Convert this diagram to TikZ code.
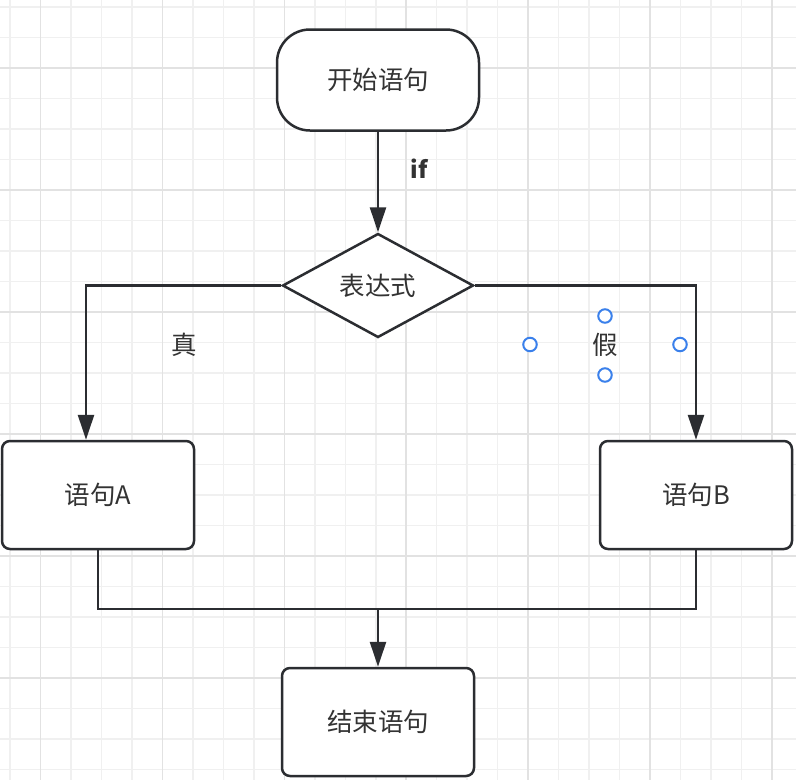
\documentclass[tikz,border=0pt]{standalone}
\usepackage{fontspec}
\setmainfont{Noto Sans CJK SC}
\usetikzlibrary{shapes.geometric,arrows.meta}
\definecolor{gridminor}{HTML}{F0F0F0}
\definecolor{gridmajor}{HTML}{E2E2E2}
\definecolor{ink}{HTML}{2B2D31}
\definecolor{txt}{HTML}{333333}
\definecolor{selblue}{HTML}{3A80EB}
\tikzset{
  base/.style={draw=ink, line width=2.5pt, fill=white, text=txt, font=\fontsize{25.5}{25.5}\selectfont, inner sep=0pt},
  stadium/.style={base, rectangle, rounded corners=33pt, minimum width=202pt, minimum height=101pt},
  stmt/.style={base, rectangle, rounded corners=8pt, minimum width=192pt, minimum height=108pt},
  decision/.style={base, diamond, shape aspect=1.84, minimum width=191pt, minimum height=104pt},
  conn/.style={draw=ink, line width=2.5pt},
  arr/.style={conn, -{Triangle[length=25pt, width=16pt]}},
  lbl/.style={text=txt, font=\fontsize{25.5}{25.5}\selectfont, inner sep=0pt},
  handle/.style={circle, draw=selblue, line width=2pt, fill=white, minimum size=13.5pt, inner sep=0pt},
}
\begin{document}
\begin{tikzpicture}[x=1pt, y=-1pt]
\useasboundingbox (0,0) rectangle (796,780);
\fill[white] (0,0) rectangle (796,780);
% grid
\foreach \k in {0,...,25} {
  \draw[gridminor, line width=1.5pt] ({10+30.48*\k},0) -- ({10+30.48*\k},780);
  \draw[gridminor, line width=1.5pt] (0,{7+30.5*\k}) -- (796,{7+30.5*\k});
}
\foreach \k in {1,5,9,13,17,21,25} {
  \draw[gridmajor, line width=1.5pt] ({10+30.48*\k},0) -- ({10+30.48*\k},780);
}
\foreach \k in {2,6,10,14,18,22} {
  \draw[gridmajor, line width=1.5pt] (0,{7+30.5*\k}) -- (796,{7+30.5*\k});
}
% nodes
\node[stadium] (start) at (378,80) {开始语句};
\node[decision] (cond) at (378,285.5) {表达式};
\node[stmt] (A) at (98,495) {语句A};
\node[stmt] (B) at (696,495) {语句B};
\node[stmt] (E) at (378,722) {结束语句};
% labels
\node[lbl, font=\fontsize{23.5}{23.5}\selectfont\bfseries] (iflbl) at (419,169) {if};
\node[lbl] (truelbl) at (184,345) {真};
\node[lbl] (falselbl) at (605,345) {假};
% selection handles around 假
\node[handle] (h1) at (605,316) {};
\node[handle] (h2) at (530,344.5) {};
\node[handle] (h3) at (680,344.5) {};
\node[handle] (h4) at (605,375) {};
% connectors
\draw[arr] (start.south) -- (cond.north);
\draw[arr] (cond.west) -| ([xshift=-12pt]A.north);
\draw[arr] (cond.east) -| (B.north);
\coordinate (jn) at (378,609);
\draw[conn] (A.south) |- (jn) -| (B.south);
\draw[arr] (jn) -- (E.north);
\end{tikzpicture}
\end{document}
